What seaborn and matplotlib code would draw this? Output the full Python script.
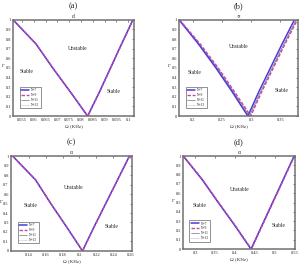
import numpy as np
import pandas as pd
import seaborn as sns
import matplotlib
matplotlib.use("Agg")
import matplotlib.pyplot as plt
from matplotlib.ticker import FuncFormatter

# Data
gamma = [1, 0.75, 0.5, 0.25, 0, 0.25, 0.5, 0.75, 1]
n_labels = ["N=7", "N=9", "N=11", "N=13"]

omega_a = {
    "N=7": [0.0512, 0.0609, 0.0680, 0.0755, 0.0828, 0.0878, 0.0925, 0.0972, 0.1020],
    "N=9": [0.0513, 0.0610, 0.0681, 0.0756, 0.0829, 0.0879, 0.0926, 0.0973, 0.1021],
    "N=11": [0.0512, 0.0609, 0.0680, 0.0755, 0.0828, 0.0878, 0.0925, 0.0972, 0.1020],
    "N=13": [0.0513, 0.0610, 0.0681, 0.0756, 0.0829, 0.0879, 0.0926, 0.0973, 0.1021],
}
omega_b = {
    "N=7": [0.177, 0.210, 0.240, 0.268, 0.2945, 0.313, 0.333, 0.353, 0.374],
    "N=9": [0.178, 0.213, 0.244, 0.272, 0.2995, 0.318, 0.338, 0.358, 0.379],
    "N=11": [0.177, 0.211, 0.242, 0.270, 0.297, 0.316, 0.336, 0.356, 0.377],
    "N=13": [0.178, 0.212, 0.243, 0.271, 0.298, 0.317, 0.337, 0.357, 0.378],
}
omega_c = {
    "N=7": [0.121, 0.148, 0.166, 0.185, 0.2035, 0.217, 0.231, 0.245, 0.259],
    "N=9": [0.1212, 0.1482, 0.1662, 0.1852, 0.2037, 0.2172, 0.2312, 0.2452, 0.2592],
    "N=11": [0.121, 0.148, 0.166, 0.185, 0.2035, 0.217, 0.231, 0.245, 0.259],
    "N=13": [0.1212, 0.1482, 0.1662, 0.1852, 0.2037, 0.2172, 0.2312, 0.2452, 0.2592],
}
omega_d = {
    "N=7": [0.270, 0.317, 0.358, 0.400, 0.440, 0.467, 0.494, 0.521, 0.548],
    "N=9": [0.271, 0.318, 0.359, 0.401, 0.441, 0.468, 0.495, 0.522, 0.549],
    "N=11": [0.270, 0.317, 0.358, 0.400, 0.440, 0.467, 0.494, 0.521, 0.548],
    "N=13": [0.271, 0.318, 0.359, 0.401, 0.441, 0.468, 0.495, 0.522, 0.549],
}

panels = [
    ("(a)", "α'", omega_a, (0.0512, 0.1025), [0.055, 0.06, 0.065, 0.07, 0.075, 0.08, 0.085, 0.09, 0.095, 0.1],
     [0.043, 0.562, 0.398, 0.363], [(0.53, 0.70), (0.11, 0.46), (0.83, 0.26)]),
    ("(b)", "∝", omega_b, (0.177, 0.38), [0.2, 0.25, 0.3, 0.35],
     [0.589, 0.562, 0.391, 0.363], [(0.505, 0.72), (0.13, 0.45), (0.86, 0.27)]),
    ("(c)", "α", omega_c, (0.119, 0.262), [0.14, 0.16, 0.18, 0.2, 0.22, 0.24, 0.26],
     [0.036, 0.053, 0.398, 0.358], [(0.52, 0.67), (0.16, 0.48), (0.83, 0.26)]),
    ("(d)", "α", omega_d, (0.2695, 0.549), [0.3, 0.35, 0.4, 0.45, 0.5, 0.55],
     [0.602, 0.060, 0.368, 0.351], [(0.51, 0.64), (0.15, 0.47), (0.85, 0.25)]),
]

sns.set_style("white")
plt.rcParams["font.family"] = ["Liberation Serif", "DejaVu Serif"]

palette = {"N=7": "#4a3ad8", "N=9": "#c04aa8", "N=11": "#505050", "N=13": "#a070c0"}
dashes = {"N=7": "", "N=9": (2.5, 1.2), "N=11": "", "N=13": (1, 1)}
widths = {"N=7": 1.1, "N=9": 1.0, "N=11": 0.4, "N=13": 0.4}

fig = plt.figure(figsize=(3.04, 2.65), dpi=100)
fmt = FuncFormatter(lambda v, p: ("%g" % round(v, 4)))

for tag, sym, omega, xlim, xticks, rect, txt in panels:
    ax = fig.add_axes(rect)
    rows = []
    for n in n_labels:
        for o, g in zip(omega[n], gamma):
            rows.append({"Omega": o, "Gamma": g, "N": n})
    df = pd.DataFrame(rows)
    for n in ["N=11", "N=13", "N=7", "N=9"]:
        sub = df[df["N"] == n]
        sns.lineplot(data=sub, x="Omega", y="Gamma", sort=False, estimator=None,
                     color=palette[n], lw=widths[n], dashes=dashes[n] if dashes[n] else (None, None),
                     ax=ax, label=n)
    ax.set_xlim(*xlim)
    ax.set_ylim(0, 1)
    ax.set_xticks(xticks)
    ax.set_yticks(np.arange(0, 1.01, 0.1))
    ax.xaxis.set_major_formatter(fmt)
    ax.yaxis.set_major_formatter(fmt)
    ax.tick_params(labelsize=3.2, length=1.2, width=0.4, pad=1.5, direction="in",
                   top=True, right=True)
    for s in ax.spines.values():
        s.set_color("#707070")
        s.set_linewidth(1.1)
    ax.set_xlabel("Ω (KHz)", fontsize=3.6, labelpad=1.5)
    ax.set_ylabel("Γ", fontsize=3.6, labelpad=1.5, rotation=0)
    ax.set_title(sym, fontsize=4, pad=1.5)
    ax.text(*txt[0], "Unstable", transform=ax.transAxes, fontsize=4, ha="center", va="center")
    ax.text(*txt[1], "Stable", transform=ax.transAxes, fontsize=4, ha="center", va="center")
    ax.text(*txt[2], "Stable", transform=ax.transAxes, fontsize=4, ha="center", va="center")
    h, l = ax.get_legend_handles_labels()
    order = [l.index(n) for n in n_labels]
    ax.legend([h[i] for i in order], n_labels, loc="lower left", bbox_to_anchor=(0.04, 0.06),
              fontsize=2.6, frameon=True, fancybox=False, edgecolor="#404040",
              handlelength=2.2, borderpad=0.4, labelspacing=0.25, handletextpad=0.6)
    ax.get_legend().get_frame().set_linewidth(0.5)
    x0, y0, w, hgt = rect
    fig.text(x0 + w / 2, y0 + hgt + 0.052, tag, fontsize=6, ha="center", va="center")

fig.savefig("out.png", dpi=100)
